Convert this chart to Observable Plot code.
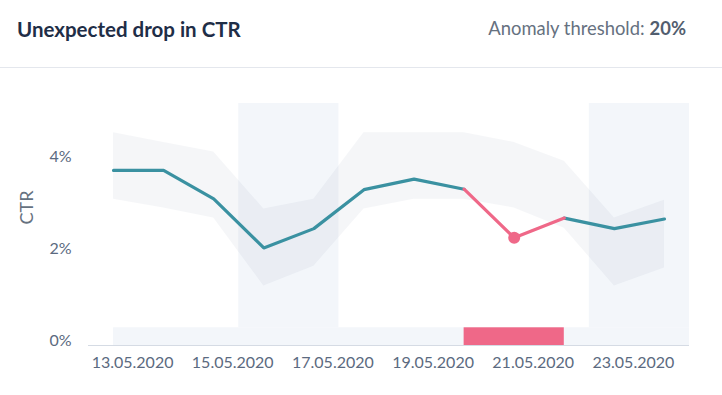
<!DOCTYPE html>
<html>
<head>
<meta charset="utf-8">
<script src="https://cdn.jsdelivr.net/npm/d3@7"></script>
<script src="https://cdn.jsdelivr.net/npm/@observablehq/plot@0.6"></script>
<style>
  html, body { margin: 0; padding: 0; background: #fff; }
  body { width: 722px; height: 395px; overflow: hidden; font-family: Lato, "Open Sans", sans-serif; }
  #header { position: relative; height: 67px; border-bottom: 1px solid #e4e7ed; }
  #title { position: absolute; left: 17px; top: 18.5px; font-size: 20.5px; line-height: 20.5px; font-weight: 700; color: #1f2e47; white-space: nowrap; }
  #thr { position: absolute; right: 36px; top: 18.7px; font-size: 18.4px; line-height: 18.4px; color: #66717f; white-space: nowrap; }
  #thr b { font-weight: 700; color: #525e6f; margin-left: 5px; }
  #chart svg { display: block; }
</style>
</head>
<body>
<div id="header">
  <div id="title"></div>
  <div id="thr"></div>
</div>
<div id="chart"></div>
<script>
// ---- data ----
const titleText = "Unexpected drop in CTR";
const thresholdLabel = "Anomaly threshold:";
const thresholdValue = "20%";
const yLabel = "CTR";

const dates = ["2020-05-13","2020-05-14","2020-05-15","2020-05-16","2020-05-17","2020-05-18",
               "2020-05-19","2020-05-20","2020-05-21","2020-05-22","2020-05-23","2020-05-24"];
const ctr   = [3.71, 3.71, 3.09, 2.02, 2.44, 3.29, 3.52, 3.30, 2.24, 2.67, 2.44, 2.65];
const upper = [4.53, 4.32, 4.11, 2.87, 3.08, 4.53, 4.53, 4.53, 4.32, 3.91, 2.67, 3.06];
const lower = [3.08, 2.89, 2.67, 1.19, 1.62, 2.87, 3.08, 3.08, 2.89, 2.45, 1.19, 1.58];

const weekends = [["2020-05-16","2020-05-17"], ["2020-05-23","2020-05-24"]];
const anomalyStart = "2020-05-20";
const anomalyEnd = "2020-05-22";

const xTicks = ["2020-05-13","2020-05-15","2020-05-17","2020-05-19","2020-05-21","2020-05-23"];
const yTicks = [0, 2, 4];

// ---- build ----
document.getElementById("title").textContent = titleText;
document.getElementById("thr").append(thresholdLabel);
const b = document.createElement("b"); b.textContent = thresholdValue;
document.getElementById("thr").append(b);

const parse = d3.utcParse("%Y-%m-%d");
const HALF = 12 * 3600 * 1000;
const rows = dates.map((d, i) => ({date: parse(d), ctr: ctr[i], upper: upper[i], lower: lower[i]}));
const aS = parse(anomalyStart), aE = parse(anomalyEnd);
const normal1 = rows.filter(r => r.date <= aS);
const anomaly = rows.filter(r => r.date >= aS && r.date <= aE);
const normal2 = rows.filter(r => r.date >= aE);
const anomalyPts = rows.filter(r => r.date > aS && r.date < aE);

const xMin = new Date(+rows[0].date - HALF);
const xMax = new Date(+rows[rows.length - 1].date + HALF);
const yMin = -0.109, yMax = 5.169, laneTop = 0.277;

const weekendRects = weekends.map(([s, e]) => ({x1: new Date(+parse(s) - HALF), x2: new Date(+parse(e) + HALF)}));
const laneRect = [{x1: rows[0].date, x2: xMax}];
const anomalyRect = [{x1: aS, x2: aE}];

const teal = "#3a91a1", pink = "#ef6888";
const fmt = d3.utcFormat("%d.%m.%Y");
const textColor = "#5b6a80";

const chart = Plot.plot({
  width: 722,
  height: 327,
  marginTop: 35,
  marginBottom: 50,
  marginLeft: 88,
  marginRight: 33,
  style: {fontFamily: "Lato, sans-serif", fontSize: "16px", color: textColor, background: "transparent"},
  x: {type: "utc", domain: [xMin, xMax]},
  y: {domain: [yMin, yMax]},
  marks: [
    Plot.rect(weekendRects, {x1: "x1", x2: "x2", y1: laneTop, y2: yMax, fill: "#f3f6fa"}),
    Plot.rect(laneRect, {x1: "x1", x2: "x2", y1: yMin, y2: laneTop, fill: "#f3f6fa"}),
    Plot.rect(anomalyRect, {x1: "x1", x2: "x2", y1: yMin, y2: laneTop, fill: pink}),
    Plot.areaY(rows, {x: "date", y1: "lower", y2: "upper", fill: "#7d8aa3", fillOpacity: 0.08}),
    Plot.ruleY([yMin], {stroke: "#d5dbe4", strokeWidth: 1.2}),
    Plot.line(normal1, {x: "date", y: "ctr", stroke: teal, strokeWidth: 3.2}),
    Plot.line(normal2, {x: "date", y: "ctr", stroke: teal, strokeWidth: 3.2}),
    Plot.line(anomaly, {x: "date", y: "ctr", stroke: pink, strokeWidth: 3.2}),
    Plot.dot(anomalyPts, {x: "date", y: "ctr", r: 6, fill: pink}),
    Plot.axisY(yTicks.map(v => Math.max(v, yMin)), {
      tickSize: 0, tickPadding: 17, fontSize: 16,
      tickFormat: d => (d <= 0 ? 0 : d) + "%",
      label: null
    }),
    Plot.text([yLabel], {
      frameAnchor: "left", dx: -61, rotate: -90, fontSize: 18, fill: "#66727f"
    }),
    Plot.axisX(xTicks.map(parse), {
      tickSize: 0, tickPadding: 11, fontSize: 16, dx: 19,
      tickFormat: fmt, label: null
    })
  ]
});
document.getElementById("chart").append(chart);
</script>
</body>
</html>
